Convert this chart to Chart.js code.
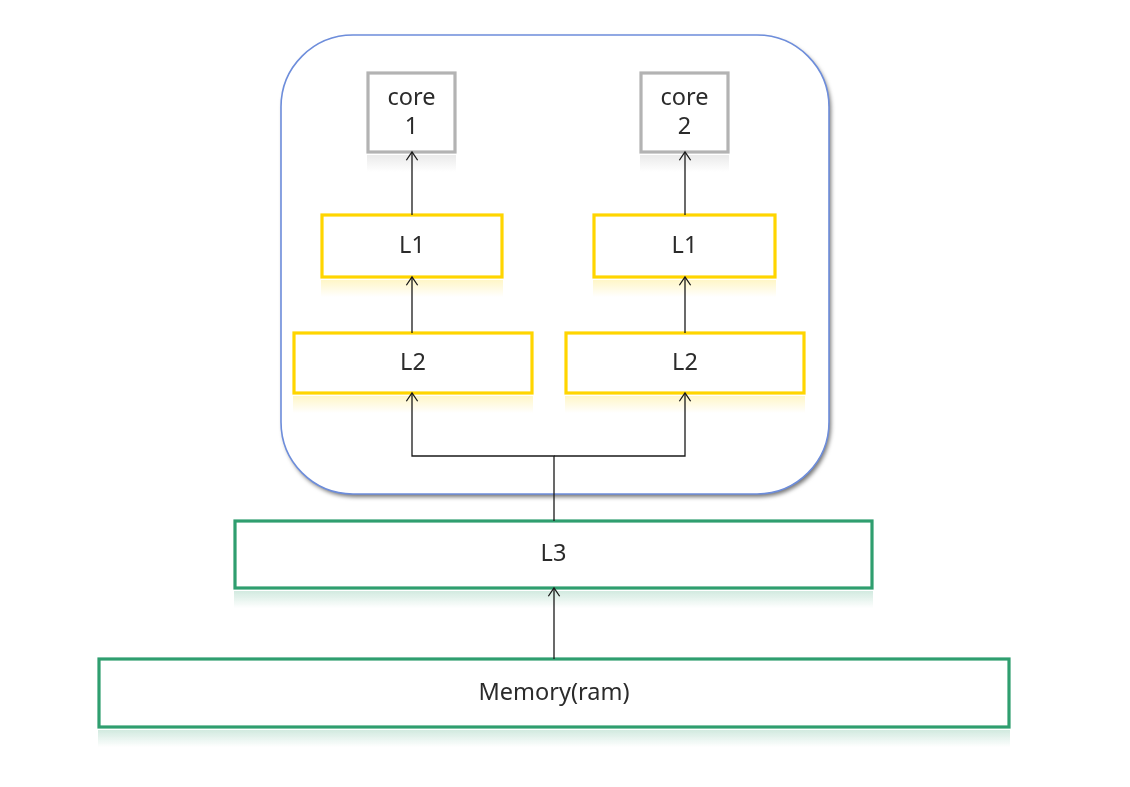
<!DOCTYPE html>
<html>
<head>
<meta charset="utf-8">
<script src="https://cdn.jsdelivr.net/npm/chart.js@4/dist/chart.umd.min.js"></script>
<style>
html,body{margin:0;padding:0;background:#fff;}
#wrap{width:1130px;height:787px;position:relative;}
</style>
</head>
<body>
<div id="wrap"><canvas id="c"></canvas></div>
<script>
// ---- diagram data (diagram units) ----
const boxLabels = [['core','1'], ['core','2'], ['L1'], ['L1'], ['L2'], ['L2'], ['L3'], ['Memory(ram)']];
const boxKinds  = ['core', 'core', 'cache', 'cache', 'cache', 'cache', 'shared', 'shared'];
const boxLeft   = [368, 641, 322, 594, 294, 566, 235, 99];
const boxRight  = [455, 728, 502, 775, 532, 804, 872, 1009];
const boxTop    = [73, 73, 215, 215, 333, 333, 521, 659];
const boxBottom = [152, 152, 277, 277, 393, 393, 588, 727];

const cpuLeft = 281, cpuRight = 829, cpuTop = 35, cpuBottom = 494;

// connectors: each a polyline, arrow at last point
const connectors = [
  [[412, 215], [412, 152]],
  [[685, 215], [685, 152]],
  [[412, 333], [412, 277]],
  [[685, 333], [685, 277]],
  [[554, 521], [554, 456], [412, 456], [412, 393]],
  [[554, 456], [685, 456], [685, 393]],
  [[554, 659], [554, 588]]
];

// ---- styles ----
const kindStroke = { core: '#b3b3b3', cache: '#ffd500', shared: '#2f9e6f' };
const kindRGB = { core: '160,160,160', cache: '255,214,0', shared: '47,158,111' };
const FONT = '23.5px "Noto Sans", "DejaVu Sans", sans-serif';

const diagramPlugin = {
  id: 'diagram',
  beforeDatasetsDraw(chart) {
    const ctx = chart.ctx, sx = chart.scales.x, sy = chart.scales.y;
    const X = v => sx.getPixelForValue(v), Y = v => sy.getPixelForValue(v);
    ctx.save();
    // CPU container
    const l = X(cpuLeft), r = X(cpuRight), t = Y(cpuTop), b = Y(cpuBottom);
    ctx.beginPath();
    ctx.roundRect(l, t, r - l, b - t, 72);
    ctx.shadowColor = 'rgba(0,0,0,0.55)';
    ctx.shadowOffsetX = 2; ctx.shadowOffsetY = 3; ctx.shadowBlur = 4;
    ctx.fillStyle = '#ffffff';
    ctx.fill();
    ctx.shadowColor = 'transparent';
    ctx.lineWidth = 1.6;
    ctx.strokeStyle = '#6d8ddb';
    ctx.stroke();

    // boxes
    boxLabels.forEach((lab, i) => {
      const bl = X(boxLeft[i]), br = X(boxRight[i]), bt = Y(boxTop[i]), bb = Y(boxBottom[i]);
      const k = boxKinds[i];
      // reflection
      const g = ctx.createLinearGradient(0, bb + 3, 0, bb + 20);
      g.addColorStop(0, 'rgba(' + kindRGB[k] + ',0.22)');
      g.addColorStop(1, 'rgba(' + kindRGB[k] + ',0)');
      ctx.fillStyle = g;
      ctx.fillRect(bl - 1, bb + 3, br - bl + 2, 17);
      ctx.fillStyle = '#ffffff';
      ctx.fillRect(bl, bt, br - bl, bb - bt);
      ctx.lineWidth = 3.2;
      ctx.strokeStyle = kindStroke[k];
      ctx.strokeRect(bl, bt, br - bl, bb - bt);
      // text
      ctx.fillStyle = '#2b2b2b';
      ctx.font = FONT;
      ctx.textAlign = 'center';
      ctx.textBaseline = 'middle';
      const cx = (bl + br) / 2, cy = (bt + bb) / 2;
      const lh = 29;
      lab.forEach((s, j) => {
        ctx.fillText(s, cx, cy + (j - (lab.length - 1) / 2) * lh);
      });
    });
    ctx.restore();
  },
  afterDatasetsDraw(chart) {
    const ctx = chart.ctx, sx = chart.scales.x, sy = chart.scales.y;
    ctx.save();
    ctx.strokeStyle = '#1a1a1a';
    ctx.lineWidth = 1.3;
    chart.data.datasets.forEach(ds => {
      const pts = ds.data;
      const a = pts[pts.length - 2], e = pts[pts.length - 1];
      const ax = sx.getPixelForValue(a.x), ay = sy.getPixelForValue(a.y);
      const ex = sx.getPixelForValue(e.x), ey = sy.getPixelForValue(e.y);
      const ang = Math.atan2(ey - ay, ex - ax);
      const L = 10, w = 0.6;
      ctx.beginPath();
      ctx.moveTo(ex - L * Math.cos(ang - w), ey - L * Math.sin(ang - w));
      ctx.lineTo(ex, ey);
      ctx.lineTo(ex - L * Math.cos(ang + w), ey - L * Math.sin(ang + w));
      ctx.stroke();
    });
    ctx.restore();
  }
};

new Chart(document.getElementById('c'), {
  type: 'scatter',
  data: {
    datasets: connectors.map(c => ({
      data: c.map(p => ({ x: p[0], y: p[1] })),
      showLine: true,
      borderColor: '#1a1a1a',
      borderWidth: 1.3,
      pointRadius: 0,
      pointHoverRadius: 0,
      tension: 0,
      fill: false
    }))
  },
  options: {
    responsive: true,
    maintainAspectRatio: false,
    animation: false,
    layout: { padding: 0 },
    plugins: { legend: { display: false }, tooltip: { enabled: false } },
    events: [],
    scales: {
      x: { type: 'linear', min: 0, max: 1130, display: false },
      y: { type: 'linear', min: 0, max: 787, reverse: true, display: false }
    }
  },
  plugins: [diagramPlugin]
});
</script>
</body>
</html>
